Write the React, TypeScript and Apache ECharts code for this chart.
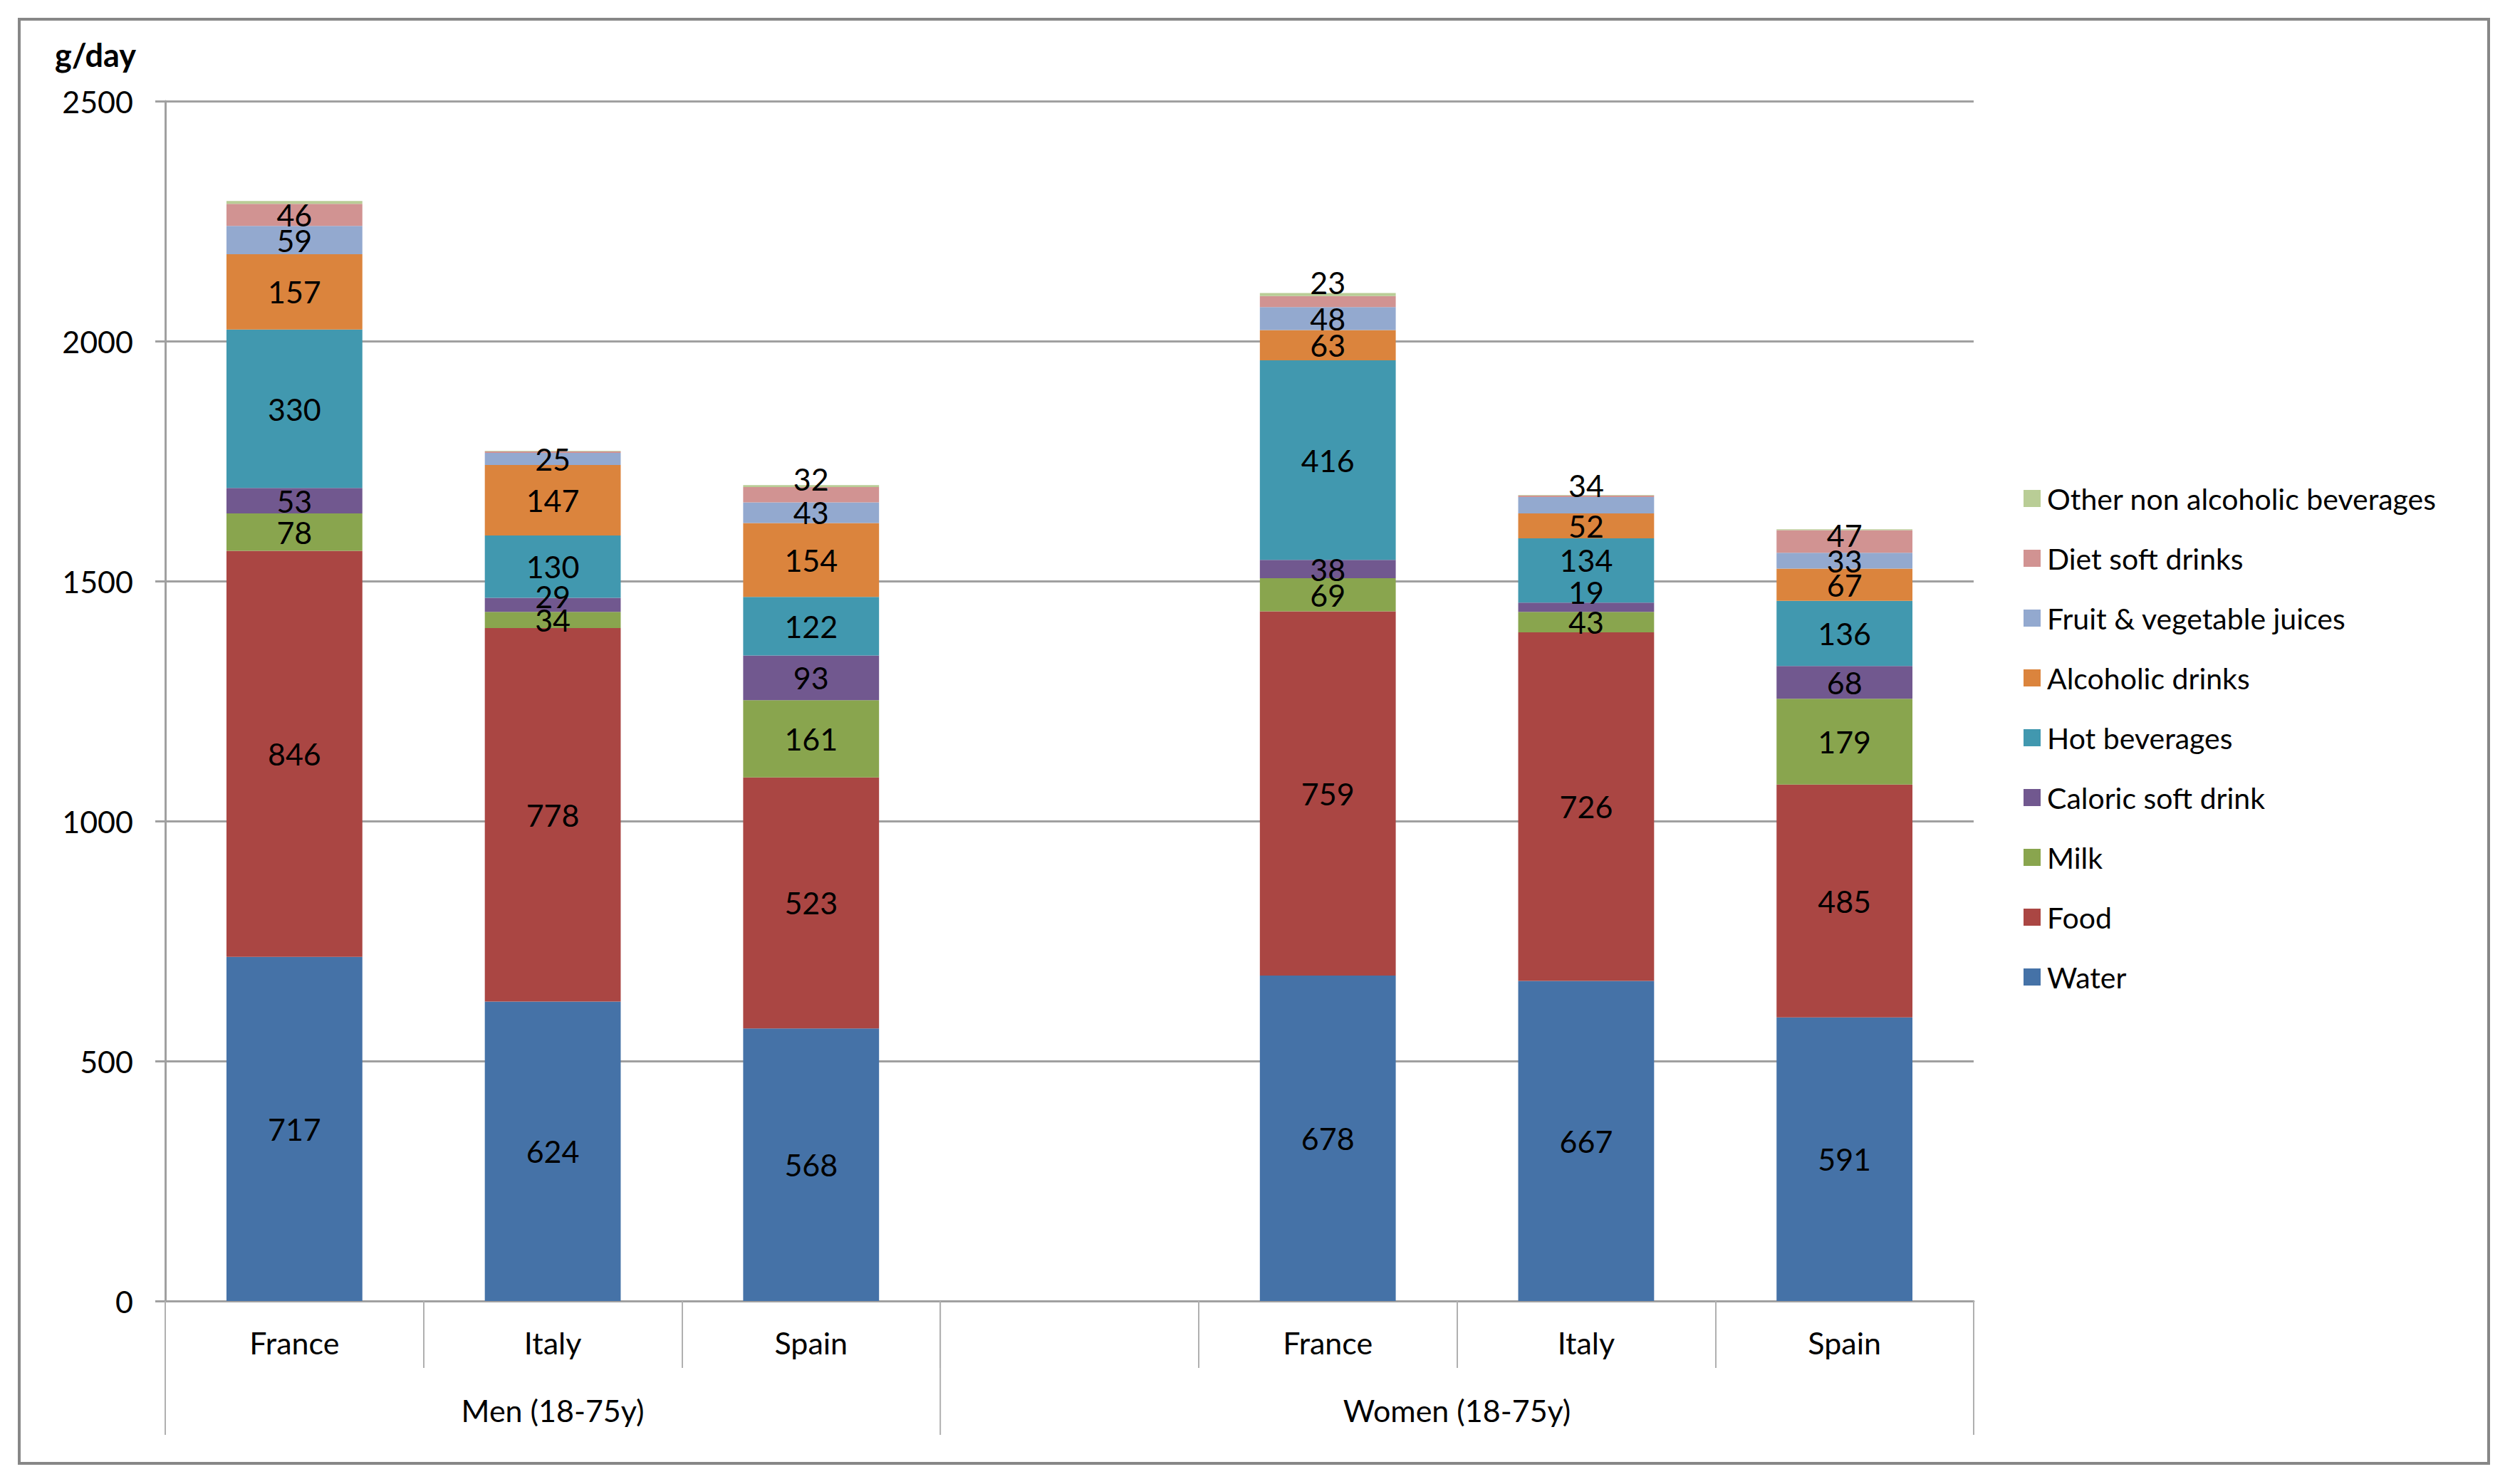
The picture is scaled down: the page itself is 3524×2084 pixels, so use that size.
import React, { useEffect, useRef } from "react";
import * as echarts from "echarts";

const categories = ["France", "Italy", "Spain", "", "France", "Italy", "Spain"];
const groupLabels = ["Men (18-75y)", "Women (18-75y)"];
// first and last category index of each group
const groupStarts = [0, 3];
const groupEnds = [2, 6];

const seriesNames = [
  "Water",
  "Food",
  "Milk",
  "Caloric soft drink",
  "Hot beverages",
  "Alcoholic drinks",
  "Fruit & vegetable juices",
  "Diet soft drinks",
  "Other non alcoholic beverages",
];

const water = [717, 624, 568, null, 678, 667, 591];
const food = [846, 778, 523, null, 759, 726, 485];
const milk = [78, 34, 161, null, 69, 43, 179];
const caloric = [53, 29, 93, null, 38, 19, 68];
const hot = [330, 130, 122, null, 416, 134, 136];
const alcoholic = [157, 147, 154, null, 63, 52, 67];
const juices = [59, 25, 43, null, 48, 34, 33];
const diet = [46, 3, 32, null, 23, 3, 47];
const other = [6, 1, 4, null, 6, 1, 2];

const seriesValues = [water, food, milk, caloric, hot, alcoholic, juices, diet, other];

const colors = [
  "#4572A7",
  "#AA4643",
  "#89A54E",
  "#71588F",
  "#4198AF",
  "#DB843D",
  "#93A9CF",
  "#D19392",
  "#B9CD96",
];

// vertical label nudges (px) per series / category, as placed in the original
const labelShift: Record<string, number> = {
  "3-1": -12,
  "3-5": -21,
  "4-5": -15,
  "6-5": -28,
  "7-2": -22,
  "7-4": -27,
  "7-6": -9,
};

const yMin = 0;
const yMax = 2500;
const yStep = 500;

const FONT = "Lato";

export default function App() {
  const ref = useRef<HTMLDivElement>(null);

  useEffect(() => {
    if (!ref.current) return;
    const chart = echarts.init(ref.current, undefined, { renderer: "svg" });

    const series = seriesNames.map((name, si) => ({
      name,
      type: "bar",
      stack: "total",
      barWidth: "52.6%",
      itemStyle: { color: colors[si] },
      label: {
        show: true,
        position: "inside",
        fontFamily: FONT,
        fontSize: 43,
        color: "#000",
        formatter: (p: any) => (p.value != null && p.value >= 10 ? String(p.value) : ""),
      },
      data: seriesValues[si].map((v, ci) => {
        const s = labelShift[`${si}-${ci}`];
        if (v == null) return "-";
        return s ? { value: v, label: { offset: [0, s] } } : v;
      }),
    }));

    const option: any = {
      animation: false,
      backgroundColor: "#ffffff",
      textStyle: { fontFamily: FONT },
      grid: { left: 232, right: 753, top: 142, bottom: 257, containLabel: false },
      legend: {
        orient: "vertical",
        left: 2836,
        top: 673,
        itemWidth: 24,
        itemHeight: 24,
        itemGap: 40,
        icon: "rect",
        data: [...seriesNames].reverse(),
        textStyle: { fontFamily: FONT, fontSize: 41, color: "#000", lineHeight: 44, padding: [0, 0, 0, 4] },
      },
      xAxis: {
        type: "category",
        data: categories,
        axisLine: { show: true, lineStyle: { color: "#a0a0a0", width: 3 } },
        axisTick: { show: true, length: 94, interval: 0, lineStyle: { color: "#b0b0b0", width: 2 } },
        axisLabel: { interval: 0, margin: 34, fontFamily: FONT, fontSize: 43, color: "#000", lineHeight: 48 },
      },
      yAxis: {
        type: "value",
        min: yMin,
        max: yMax,
        interval: yStep,
        axisLine: { show: true, lineStyle: { color: "#a0a0a0", width: 3 } },
        axisTick: { show: true, length: 14, lineStyle: { color: "#a0a0a0", width: 3 } },
        axisLabel: {
          margin: 45,
          fontFamily: FONT,
          fontSize: 43,
          color: "#000",
          formatter: (v: number) => String(v),
        },
        splitLine: { show: true, lineStyle: { color: "#a0a0a0", width: 3 } },
      },
      series,
    };

    chart.setOption(option);

    const c0 = chart.convertToPixel({ xAxisIndex: 0 }, 0) as number;
    const c1 = chart.convertToPixel({ xAxisIndex: 0 }, 1) as number;
    const band = c1 - c0;
    const axisY = chart.convertToPixel({ yAxisIndex: 0 }, 0) as number;
    const left = (i: number) => c0 + (i - 0.5) * band;
    const right = (i: number) => c0 + (i + 0.5) * band;

    const sepXs = [left(groupStarts[0]), ...groupEnds.map((e) => right(e))];
    const graphic: any[] = [
      {
        type: "rect",
        shape: { x: 27, y: 27, width: 3467, height: 2028 },
        style: { fill: "none", stroke: "#878787", lineWidth: 4 },
        silent: true,
      },
      {
        type: "text",
        x: 191,
        y: 77,
        style: {
          text: "g/day",
          fontFamily: FONT,
          fontWeight: "bold",
          fontSize: 45,
          fill: "#000",
          align: "right",
          verticalAlign: "middle",
        },
      },
      ...sepXs.map((x) => ({
        type: "line",
        shape: { x1: x, y1: axisY, x2: x, y2: axisY + 188 },
        style: { stroke: "#b0b0b0", lineWidth: 2 },
        silent: true,
      })),
      ...groupLabels.map((t, gi) => ({
        type: "text",
        x: (left(groupStarts[gi]) + right(groupEnds[gi])) / 2,
        y: axisY + 153,
        style: {
          text: t,
          fontFamily: FONT,
          fontSize: 43,
          fill: "#000",
          align: "center",
          verticalAlign: "middle",
        },
      })),
    ];
    chart.setOption({ graphic });

    return () => chart.dispose();
  }, []);

  return (
    <div
      ref={ref}
      style={{ position: "absolute", left: 0, top: 0, width: 3524, height: 2084, background: "#fff" }}
    />
  );
}
